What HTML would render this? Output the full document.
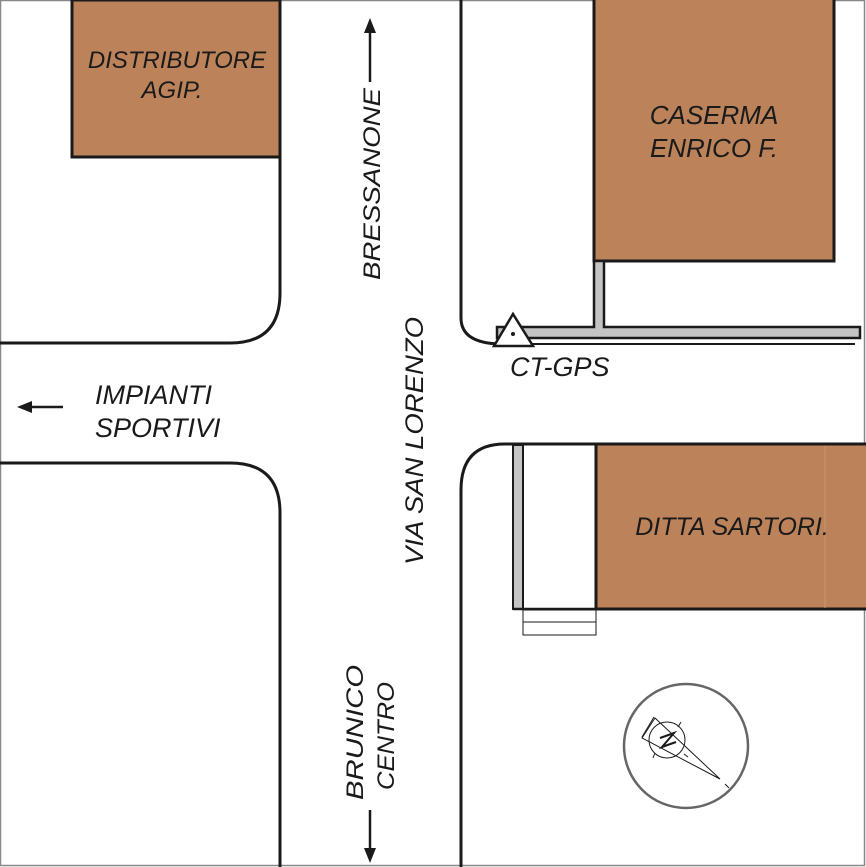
<!DOCTYPE html>
<html><head><meta charset="utf-8"><style>
html,body{margin:0;padding:0;background:#fff}
svg{display:block}
text{font-family:"Liberation Sans",sans-serif;font-style:italic;fill:#1a1a1a}
</style></head><body>
<svg width="866" height="867" viewBox="0 0 866 867" xmlns="http://www.w3.org/2000/svg">
<rect x="0.5" y="0.5" width="864" height="865" fill="#fff" stroke="#888" stroke-width="1.5"/>
<rect x="72" y="0" width="208" height="157" fill="#bc835a" stroke="#1a1a1a" stroke-width="3"/>
<rect x="594" y="-3" width="240" height="264" fill="#bc835a" stroke="#1a1a1a" stroke-width="3"/>
<rect x="596" y="444" width="272" height="165" fill="#bc835a" stroke="#1a1a1a" stroke-width="3"/>
<line x1="825" y1="446" x2="825" y2="608" stroke="#c99670" stroke-width="1"/>
<g fill="none" stroke="#1a1a1a" stroke-width="3">
<path d="M280 0 V293 Q280 343 230 343 H0"/>
<path d="M0 463 H230 Q280 463 280 513 V867"/>
<path d="M461 0 V318 Q461 343 500 344"/>
<path d="M855 444 H505 Q461 444 461 490 V867"/>
</g>
<path d="M594 261 V327 H497 V338 H860 V327 H604 V261 Z" fill="#c4c4c4" stroke="#1a1a1a" stroke-width="2.5"/>
<line x1="497" y1="344" x2="855" y2="344" stroke="#1a1a1a" stroke-width="2"/>
<rect x="513" y="445" width="10" height="164" fill="#c4c4c4" stroke="#1a1a1a" stroke-width="2"/>
<line x1="513" y1="609" x2="596" y2="609" stroke="#1a1a1a" stroke-width="2.5"/>
<rect x="523" y="610" width="73" height="12" fill="#fff" stroke="#1a1a1a" stroke-width="1"/>
<rect x="523" y="622" width="73" height="13" fill="#fff" stroke="#1a1a1a" stroke-width="1"/>
<polygon points="513,314 494,346 533,346" fill="#fff" stroke="#1a1a1a" stroke-width="2.5"/>
<circle cx="513" cy="334" r="2" fill="#1a1a1a"/>
<g stroke="#1a1a1a" stroke-width="2.5">
<line x1="370" y1="30" x2="370" y2="82"/>
<line x1="370" y1="810" x2="370" y2="852"/>
<line x1="30" y1="407" x2="63" y2="407"/>
</g>
<polygon points="370,18 364,33 376,33" fill="#1a1a1a"/>
<polygon points="370,863 364,848 376,848" fill="#1a1a1a"/>
<polygon points="17,407 32,401 32,413" fill="#1a1a1a"/>
<text x="177" y="68" font-size="24" text-anchor="middle">DISTRIBUTORE</text>
<text x="172" y="98" font-size="24" text-anchor="middle">AGIP.</text>
<text x="714" y="124" font-size="26" text-anchor="middle">CASERMA</text>
<text x="714" y="157" font-size="26" text-anchor="middle">ENRICO F.</text>
<text x="732" y="535" font-size="25" text-anchor="middle">DITTA SARTORI.</text>
<text x="510" y="376" font-size="27">CT-GPS</text>
<text x="95" y="404" font-size="27">IMPIANTI</text>
<text x="95" y="437" font-size="27">SPORTIVI</text>
<text transform="translate(380,280) rotate(-90)" font-size="24" textLength="192" lengthAdjust="spacingAndGlyphs">BRESSANONE</text>
<text transform="translate(423,565) rotate(-90)" font-size="25" textLength="248" lengthAdjust="spacingAndGlyphs">VIA SAN LORENZO</text>
<text transform="translate(363,800) rotate(-90)" font-size="24" textLength="135" lengthAdjust="spacingAndGlyphs">BRUNICO</text>
<text transform="translate(394,790) rotate(-90)" font-size="24" textLength="108" lengthAdjust="spacingAndGlyphs">CENTRO</text>
<circle cx="686" cy="746" r="62" fill="none" stroke="#666" stroke-width="2.5"/>
<g stroke="#1a1a1a" stroke-width="1" fill="none">
<circle cx="667" cy="740" r="18"/>
<polygon points="655,718 720,779 642,738"/>
<line x1="654" y1="717" x2="642" y2="737"/>
<line x1="681" y1="722" x2="678" y2="727"/>
<line x1="653" y1="758" x2="655" y2="753"/>
<line x1="684" y1="754" x2="688" y2="757"/>
<line x1="725" y1="784" x2="729" y2="788"/>
<path d="M660 738 L674 733 L662 747 L676 742" stroke-width="2"/>
</g>
</svg>
</body></html>
